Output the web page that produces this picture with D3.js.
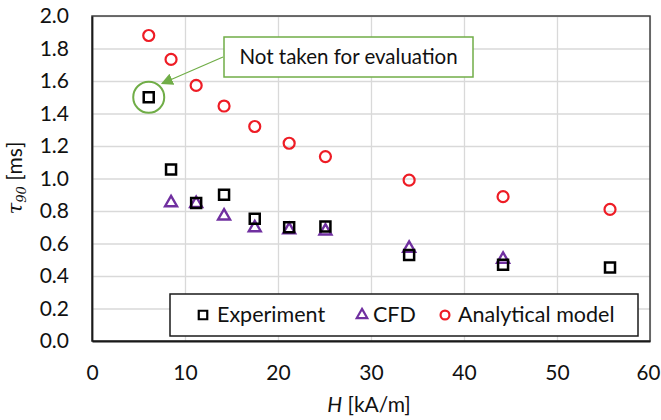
<!DOCTYPE html>
<html>
<head>
<meta charset="utf-8">
<script src="https://cdn.jsdelivr.net/npm/d3@7"></script>
<style>
  html, body { margin: 0; padding: 0; background: #fff; }
  svg { display: block; font-family: Lato, "Open Sans", sans-serif; }
</style>
</head>
<body>
<svg id="chart" width="661" height="420"></svg>
<script>
// Magnetic field strength H [kA/m] for each measurement
const fieldH = [6.1, 8.5, 11.2, 14.2, 17.5, 21.2, 25.1, 34.1, 44.2, 55.7];
// Response time tau90 [ms]
const experiment = [1.50, 1.055, 0.85, 0.90, 0.752, 0.70, 0.705, 0.53, 0.47, 0.453];
const cfdH = [8.5, 11.2, 14.2, 17.5, 21.2, 25.1, 34.1, 44.2];
const cfd = [0.857, 0.852, 0.775, 0.703, 0.69, 0.683, 0.577, 0.509];
const analytical = [1.88, 1.733, 1.573, 1.446, 1.32, 1.217, 1.135, 0.99, 0.888, 0.81];
const xTicks = [0, 10, 20, 30, 40, 50, 60];
const yTicks = [0, 0.2, 0.4, 0.6, 0.8, 1.0, 1.2, 1.4, 1.6, 1.8, 2.0];
const seriesNames = ["Experiment", "CFD", "Analytical model"];
const excludedIndex = 0; // first experimental point is not used

const svg = d3.select("#chart");
const plot = { left: 92, right: 650, top: 16, bottom: 341 };

const x = d3.scaleLinear().domain([0, 60]).range([plot.left, plot.right]);
const y = d3.scaleLinear().domain([0, 2]).range([plot.bottom, plot.top]);

const colors = { exp: "#000000", cfd: "#7030a0", ana: "#ee1c25", note: "#70ad47" };

// gridlines
svg.append("g")
  .attr("transform", `translate(0,${plot.bottom})`)
  .call(d3.axisBottom(x).tickValues(xTicks).tickSize(-(plot.bottom - plot.top)).tickFormat(""))
  .call(g => g.select(".domain").remove())
  .call(g => g.selectAll("line").attr("stroke", "#d9d9d9").attr("stroke-width", 1.3));
svg.append("g")
  .attr("transform", `translate(${plot.left},0)`)
  .call(d3.axisLeft(y).tickValues(yTicks).tickSize(-(plot.right - plot.left)).tickFormat(""))
  .call(g => g.select(".domain").remove())
  .call(g => g.selectAll("line").attr("stroke", "#d9d9d9").attr("stroke-width", 1.3));

// plot area border
svg.append("rect")
  .attr("x", plot.left).attr("y", plot.top)
  .attr("width", plot.right - plot.left).attr("height", plot.bottom - plot.top)
  .attr("fill", "none").attr("stroke", "#404040").attr("stroke-width", 1.5);

// axes
const xAxis = svg.append("g")
  .attr("transform", `translate(0,${plot.bottom})`)
  .call(d3.axisBottom(x).tickValues(xTicks).tickSize(0).tickPadding(24).tickFormat(d3.format("d")));
const yAxis = svg.append("g")
  .attr("transform", `translate(${plot.left},0)`)
  .call(d3.axisLeft(y).tickValues(yTicks).tickSize(0).tickPadding(23).tickFormat(d3.format(".1f")));
[xAxis, yAxis].forEach(a => {
  a.select(".domain").attr("stroke", "#1a1a1a").attr("stroke-width", 1.8);
  a.selectAll("text").attr("font-family", "Lato, sans-serif").attr("font-size", 21).attr("fill", "#111");
});
// keep the last x label inside the canvas
xAxis.selectAll(".tick text").filter(d => d === 60).attr("font-size", 20.5).attr("dx", -2);

// axis titles
const xt = svg.append("text")
  .attr("x", 369).attr("y", 412)
  .attr("text-anchor", "middle").attr("font-size", 21).attr("fill", "#111");
xt.append("tspan").attr("font-style", "italic").text("H");
xt.append("tspan").text(" [kA/m]");

const yt = svg.append("text")
  .attr("transform", "translate(22,178) rotate(-90)")
  .attr("text-anchor", "middle").attr("font-size", 21).attr("fill", "#111");
yt.append("tspan").attr("font-family", "'DejaVu Serif', serif").attr("font-style", "italic").text("τ");
yt.append("tspan").attr("font-family", "'DejaVu Serif', serif").attr("font-style", "italic")
  .attr("font-size", 13).attr("dy", 4).text("90");
yt.append("tspan").attr("dy", -4).text(" [ms]");

// marker drawing helpers
const sym = {
  square: d3.symbol().type(d3.symbolSquare).size(100),
  triangle: d3.symbol().type(d3.symbolTriangle).size(62),
  circle: d3.symbol().type(d3.symbolCircle).size(95)
};

const cfdPts = cfdH.map((h, i) => ({ h, v: cfd[i] }));
const expPts = fieldH.map((h, i) => ({ h, v: experiment[i] }));
const anaPts = fieldH.map((h, i) => ({ h, v: analytical[i] }));

svg.append("g").selectAll("path").data(cfdPts).join("path")
  .attr("d", sym.triangle)
  .attr("transform", d => `translate(${x(d.h)},${y(d.v) + 1})`)
  .attr("fill", "none").attr("stroke", colors.cfd).attr("stroke-width", 2.4);

svg.append("g").selectAll("path").data(expPts).join("path")
  .attr("d", sym.square)
  .attr("transform", d => `translate(${x(d.h)},${y(d.v)})`)
  .attr("fill", "none").attr("stroke", colors.exp).attr("stroke-width", 2.5);

svg.append("g").selectAll("path").data(anaPts).join("path")
  .attr("d", sym.circle)
  .attr("transform", d => `translate(${x(d.h)},${y(d.v)})`)
  .attr("fill", "none").attr("stroke", colors.ana).attr("stroke-width", 2.2);

// note marking the excluded point
const ex = expPts[excludedIndex];
svg.append("circle")
  .attr("cx", x(ex.h)).attr("cy", y(ex.v)).attr("r", 15.5)
  .attr("fill", "none").attr("stroke", colors.note).attr("stroke-width", 2);

svg.append("defs").append("marker")
  .attr("id", "arrow").attr("viewBox", "0 0 10 10").attr("refX", 9).attr("refY", 5)
  .attr("markerWidth", 12).attr("markerHeight", 12).attr("markerUnits", "userSpaceOnUse")
  .attr("orient", "auto")
  .append("path").attr("d", "M0,0 L10,5 L0,10 Z").attr("fill", colors.note);

svg.append("line")
  .attr("x1", 223).attr("y1", 57).attr("x2", 162).attr("y2", 83.5)
  .attr("stroke", colors.note).attr("stroke-width", 1.2).attr("marker-end", "url(#arrow)");

svg.append("rect")
  .attr("x", 224).attr("y", 37).attr("width", 249).attr("height", 40)
  .attr("fill", "#fff").attr("stroke", colors.note).attr("stroke-width", 1.5);
svg.append("text")
  .attr("x", 348.5).attr("y", 64).attr("text-anchor", "middle")
  .attr("font-size", 20.5).attr("fill", "#111").text("Not taken for evaluation");

// legend
const lg = svg.append("g");
lg.append("rect")
  .attr("x", 170).attr("y", 294).attr("width", 468).attr("height", 42)
  .attr("fill", "#fff").attr("stroke", "#1a1a1a").attr("stroke-width", 1.5);
const legendItems = [
  { name: seriesNames[0], s: d3.symbol().type(d3.symbolSquare).size(72), c: colors.exp, mx: 203, tx: 217 },
  { name: seriesNames[1], s: d3.symbol().type(d3.symbolTriangle).size(48), c: colors.cfd, mx: 362, tx: 373 },
  { name: seriesNames[2], s: d3.symbol().type(d3.symbolCircle).size(62), c: colors.ana, mx: 445, tx: 458 }
];
legendItems.forEach(it => {
  lg.append("path").attr("d", it.s).attr("transform", `translate(${it.mx},315)`)
    .attr("fill", "none").attr("stroke", it.c).attr("stroke-width", 2.2);
  lg.append("text").attr("x", it.tx).attr("y", 322).attr("font-size", 21.5)
    .attr("fill", "#111").text(it.name);
});
</script>
</body>
</html>
